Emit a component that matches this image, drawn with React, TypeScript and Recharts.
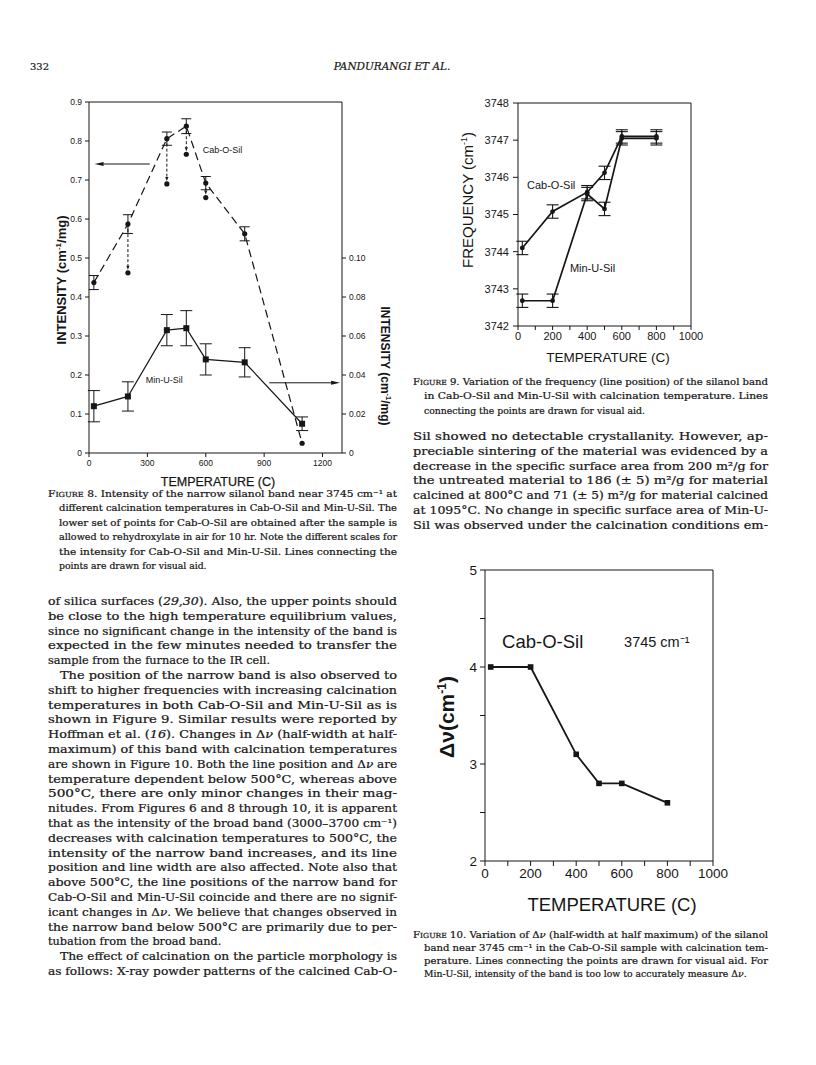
import React from 'react';
import { ComposedChart, LineChart, Line, XAxis, YAxis, ErrorBar, ReferenceLine, ReferenceDot } from 'recharts';

const SANS = '"Liberation Sans", Arial, Helvetica, sans-serif';
const SERIF = '"DejaVu Serif", "Liberation Serif", serif';
const INK = '#161616';

// ---------- Figure 8 data ----------
const fig8Temps = [25, 200, 400, 500, 600, 800, 1095];
const fig8CabOSil = [0.437, 0.587, 0.806, 0.838, 0.692, 0.562, 0.025];
const fig8CabOSilErr = [0.018, 0.024, 0.017, 0.019, 0.017, 0.018, 0];
const fig8RehydTemps = [200, 400, 500, 600];
const fig8CabOSilRehyd = [0.462, 0.69, 0.766, 0.655];
const fig8MinUSil = [0.024, 0.029, 0.063, 0.064, 0.048, 0.0465, 0.015];
const fig8MinUSilErr = [0.008, 0.0075, 0.008, 0.009, 0.008, 0.0075, 0.0035];
const fig8XTicks = [0, 300, 600, 900, 1200];
const fig8LeftTicks = [0, 0.1, 0.2, 0.3, 0.4, 0.5, 0.6, 0.7, 0.8, 0.9];
const fig8RightTicks = [0, 0.02, 0.04, 0.06, 0.08, 0.1];
const fig8LeftArrow = { y: 0.741, from: 312, to: 29 };
const fig8RightArrow = { y: 0.036, from: 926, to: 1290 };
const fig8Labels = [
  { text: 'Cab-O-Sil', x: 585, y: 0.778, axis: 'left' },
  { text: 'Min-U-Sil', x: 292, y: 0.0374, axis: 'right' },
];

// ---------- Figure 9 data ----------
const fig9Temps = [25, 200, 400, 500, 600, 800];
const fig9CabOSil = [3744.1, 3745.08, 3745.6, 3746.12, 3747.1, 3747.1];
const fig9CabOSilErr = [0.18, 0.18, 0.18, 0.18, 0.18, 0.18];
const fig9MinUSil = [3742.68, 3742.68, 3745.55, 3745.15, 3747.05, 3747.05];
const fig9MinUSilErr = [0.18, 0.18, 0.18, 0.18, 0.18, 0.18];
const fig9XTicks = [0, 100, 200, 300, 400, 500, 600, 700, 800, 900, 1000];
const fig9YTicks = [3742, 3743, 3744, 3745, 3746, 3747, 3748];
const fig9Labels = [
  { text: 'Cab-O-Sil', x: 52, y: 3745.79 },
  { text: 'Min-U-Sil', x: 300, y: 3743.56 },
];

// ---------- Figure 10 data ----------
const fig10Temps = [25, 200, 400, 500, 600, 800];
const fig10DeltaNu = [4.0, 4.0, 3.1, 2.8, 2.8, 2.6];
const fig10XTicks = [0, 100, 200, 300, 400, 500, 600, 700, 800, 900, 1000];
const fig10YTicks = [2, 2.5, 3, 3.5, 4, 4.5, 5];
const fig10Labels = [
  { text: 'Cab-O-Sil', x: 75, y: 4.26, size: 18.5 },
  { text: '3745 cm\u207B\u00B9', x: 610, y: 4.26, size: 14.5 },
];

// ---------- Page text ----------
const fig8Caption = [
  '^Figure^ 8. Intensity of the narrow silanol band near 3745 cm\u207B\u00B9 at',
  'different calcination temperatures in Cab-O-Sil and Min-U-Sil. The',
  'lower set of points for Cab-O-Sil are obtained after the sample is',
  'allowed to rehydroxylate in air for 10 hr. Note the different scales for',
  'the intensity for Cab-O-Sil and Min-U-Sil. Lines connecting the',
  'points are drawn for visual aid.',
];
const fig9Caption = [
  '^Figure^ 9. Variation of the frequency (line position) of the silanol band',
  'in Cab-O-Sil and Min-U-Sil with calcination temperature. Lines',
  'connecting the points are drawn for visual aid.',
];
const fig10Caption = [
  '^Figure^ 10. Variation of \u0394_\u03BD_ (half-width at half maximum) of the silanol',
  'band near 3745 cm\u207B\u00B9 in the Cab-O-Sil sample with calcination tem-',
  'perature. Lines connecting the points are drawn for visual aid. For',
  'Min-U-Sil, intensity of the band is too low to accurately measure \u0394_\u03BD_.',
];
const leftBody = [
  'of silica surfaces (_29,30_). Also, the upper points should',
  'be close to the high temperature equilibrium values,',
  'since no significant change in the intensity of the band is',
  'expected in the few minutes needed to transfer the',
  'sample from the furnace to the IR cell.',
  'The position of the narrow band is also observed to',
  'shift to higher frequencies with increasing calcination',
  'temperatures in both Cab-O-Sil and Min-U-Sil as is',
  'shown in Figure 9. Similar results were reported by',
  'Hoffman et al. (_16_). Changes in \u0394_\u03BD_ (half-width at half-',
  'maximum) of this band with calcination temperatures',
  'are shown in Figure 10. Both the line position and \u0394_\u03BD_ are',
  'temperature dependent below 500\u00B0C, whereas above',
  '500\u00B0C, there are only minor changes in their mag-',
  'nitudes. From Figures 6 and 8 through 10, it is apparent',
  'that as the intensity of the broad band (3000\u20133700 cm\u207B\u00B9)',
  'decreases with calcination temperatures to 500\u00B0C, the',
  'intensity of the narrow band increases, and its line',
  'position and line width are also affected. Note also that',
  'above 500\u00B0C, the line positions of the narrow band for',
  'Cab-O-Sil and Min-U-Sil coincide and there are no signif-',
  'icant changes in \u0394_\u03BD_. We believe that changes observed in',
  'the narrow band below 500\u00B0C are primarily due to per-',
  'tubation from the broad band.',
  'The effect of calcination on the particle morphology is',
  'as follows: X-ray powder patterns of the calcined Cab-O-',
];
const leftBodyIndented = [5, 24];
const leftBodyRagged = [4, 23];
const rightBody = [
  'Sil showed no detectable crystallanity. However, ap-',
  'preciable sintering of the material was evidenced by a',
  'decrease in the specific surface area from 200 m\u00B2/g for',
  'the untreated material to 186 (\u00B1 5) m\u00B2/g for material',
  'calcined at 800\u00B0C and 71 (\u00B1 5) m\u00B2/g for material calcined',
  'at 1095\u00B0C. No change in specific surface area of Min-U-',
  'Sil was observed under the calcination conditions em-',
];

function rich(s: string) {
  const parts: React.ReactNode[] = [];
  let italic = false;
  let sc = false;
  let buf = '';
  let k = 0;
  const flush = () => {
    if (buf) {
      parts.push(
        <tspan key={k++} fontStyle={italic ? 'italic' : undefined} style={sc ? { fontVariant: 'small-caps' } : undefined}>
          {buf}
        </tspan>
      );
      buf = '';
    }
  };
  for (const ch of s) {
    if (ch === '_') { flush(); italic = !italic; }
    else if (ch === '^') { flush(); sc = !sc; }
    else buf += ch;
  }
  flush();
  return parts;
}

function TLine(props: { x: number; y: number; w?: number; s: string; size: number; family?: string; italic?: boolean }) {
  const { x, y, w, s, size, family, italic } = props;
  const extra: any = w ? { textLength: w, lengthAdjust: 'spacingAndGlyphs' } : {};
  return (
    <text x={x} y={y} fontSize={size} fontFamily={family || SERIF} fill={INK} stroke={INK} strokeWidth={0.22} fontStyle={italic ? 'italic' : undefined} style={{ whiteSpace: 'pre' }} {...extra}>
      {rich(s)}
    </text>
  );
}

function Block(props: { lines: string[]; x: number; right: number; y0: number; dy: number; size: number; indent: number; indented: number[]; ragged: number[] }) {
  const { lines, x, right, y0, dy, size, indent, indented, ragged } = props;
  return (
    <g>
      {lines.map((s, i) => {
        const lx = indented.includes(i) ? x + indent : x;
        const w = ragged.includes(i) ? undefined : right - lx;
        return <TLine key={i} x={lx} y={y0 + i * dy} w={w} s={s} size={size} />;
      })}
    </g>
  );
}

const circleDot = (r: number) => (p: any) =>
  p.cx == null ? <g key={`n${p.index}`} /> : <circle key={`c${p.index}`} cx={p.cx} cy={p.cy} r={r} fill={INK} />;
const squareDot = (h: number) => (p: any) =>
  p.cx == null ? <g key={`n${p.index}`} /> : <rect key={`s${p.index}`} x={p.cx - h} y={p.cy - h} width={2 * h} height={2 * h} fill={INK} />;

const arrowShape = (dash: string | undefined, gap: number, hl: number, hw: number) => (p: any) => {
  const { x1, y1, x2, y2 } = p;
  const dx = x2 - x1;
  const dy = y2 - y1;
  const len = Math.hypot(dx, dy) || 1;
  const ux = dx / len;
  const uy = dy / len;
  const ex = x2 - ux * gap;
  const ey = y2 - uy * gap;
  const bx = ex - ux * hl;
  const by = ey - uy * hl;
  const pts = `${ex},${ey} ${bx - uy * hw},${by + ux * hw} ${bx + uy * hw},${by - ux * hw}`;
  return (
    <g>
      <line x1={x1} y1={y1} x2={bx} y2={by} stroke={INK} strokeWidth={1} strokeDasharray={dash} />
      <polygon points={pts} fill={INK} />
    </g>
  );
};

function Fig8() {
  const cab = fig8Temps.map((t, i) => ({ t, v: fig8CabOSil[i], e: fig8CabOSilErr[i] }));
  const rehyd = fig8RehydTemps.map((t, i) => ({ t, v: fig8CabOSilRehyd[i] }));
  const minu = fig8Temps.map((t, i) => ({ t, v: fig8MinUSil[i], e: fig8MinUSilErr[i] }));
  const tick = { fontSize: 8.5, fontFamily: SANS, fill: INK };
  return (
    <div style={{ position: 'absolute', left: 30, top: 88 }}>
      <ComposedChart width={380} height={410} margin={{ top: 14, right: 24, bottom: 15, left: 15 }}>
        <XAxis xAxisId="x" type="number" dataKey="t" domain={[0, 1300]} ticks={fig8XTicks} tick={tick} tickSize={4} tickMargin={3} height={30} stroke={INK} allowDataOverflow />
        <YAxis xAxisId="x" yAxisId="left" type="number" domain={[0, 0.9]} ticks={fig8LeftTicks} tick={tick} tickSize={4} tickMargin={3} width={44} stroke={INK} tickFormatter={(v: number) => (v === 0 ? '0' : v.toFixed(1))} allowDataOverflow />
        <YAxis yAxisId="right" orientation="right" type="number" domain={[0, 0.18]} ticks={fig8RightTicks} tick={tick} tickSize={4} tickMargin={3} width={44} stroke={INK} tickFormatter={(v: number) => (v === 0 ? '0' : v.toFixed(2))} allowDataOverflow />
        <ReferenceLine xAxisId="x" yAxisId="left" y={0.9} stroke={INK} />
        <Line xAxisId="x" yAxisId="left" data={cab} dataKey="v" stroke={INK} strokeWidth={1.2} strokeDasharray="8 4.5" dot={circleDot(2.6)} isAnimationActive={false}>
          <ErrorBar dataKey="e" direction="y" width={5} stroke={INK} strokeWidth={1} />
        </Line>
        <Line xAxisId="x" yAxisId="left" data={rehyd} dataKey="v" stroke="none" dot={circleDot(2.6)} isAnimationActive={false} />
        <Line xAxisId="x" yAxisId="right" data={minu} dataKey="v" stroke={INK} strokeWidth={1.2} dot={squareDot(3)} isAnimationActive={false}>
          <ErrorBar dataKey="e" direction="y" width={6} stroke={INK} strokeWidth={1} />
        </Line>
        {fig8RehydTemps.map((t, i) => (
          <ReferenceLine key={`ra${i}`} xAxisId="x" yAxisId="left" segment={[{ x: t, y: fig8CabOSil[fig8Temps.indexOf(t)] }, { x: t, y: fig8CabOSilRehyd[i] }]} shape={arrowShape('3 2', 3, 4, 1.6)} />
        ))}
        <ReferenceLine xAxisId="x" yAxisId="left" segment={[{ x: fig8LeftArrow.from, y: fig8LeftArrow.y }, { x: fig8LeftArrow.to, y: fig8LeftArrow.y }]} shape={arrowShape(undefined, 0, 9, 2)} />
        <ReferenceLine xAxisId="x" yAxisId="right" segment={[{ x: fig8RightArrow.from, y: fig8RightArrow.y }, { x: fig8RightArrow.to, y: fig8RightArrow.y }]} shape={arrowShape(undefined, 0, 9, 2)} />
        {fig8Labels.map((l, i) => (
          <ReferenceDot key={`l${i}`} xAxisId="x" yAxisId={l.axis} x={l.x} y={l.y} r={0} stroke="none" label={{ value: l.text, position: 'right', offset: 0, fontSize: 9, fontFamily: SANS, fill: INK }} />
        ))}
      </ComposedChart>
    </div>
  );
}

function Fig9() {
  const cab = fig9Temps.map((t, i) => ({ t, v: fig9CabOSil[i], e: fig9CabOSilErr[i] }));
  const minu = fig9Temps.map((t, i) => ({ t, v: fig9MinUSil[i], e: fig9MinUSilErr[i] }));
  const tick = { fontSize: 11, fontFamily: SANS, fill: INK };
  return (
    <div style={{ position: 'absolute', left: 440, top: 90 }}>
      <LineChart width={300} height={260} margin={{ top: 13, right: 49, bottom: 2, left: 38 }}>
        <XAxis type="number" dataKey="t" domain={[0, 1000]} ticks={fig9XTicks} tick={tick} tickSize={4} tickMargin={2} height={22} stroke={INK} tickFormatter={(v: number) => (v % 200 === 0 ? String(v) : '')} allowDataOverflow />
        <YAxis type="number" domain={[3742, 3748]} ticks={fig9YTicks} tick={tick} tickSize={5} tickMargin={4} width={40} stroke={INK} allowDataOverflow />
        <ReferenceLine y={3748} stroke={INK} />
        <ReferenceLine x={1000} stroke={INK} />
        <Line data={cab} dataKey="v" stroke={INK} strokeWidth={1.7} dot={circleDot(2.4)} isAnimationActive={false}>
          <ErrorBar dataKey="e" direction="y" width={6} stroke={INK} strokeWidth={1.1} />
        </Line>
        <Line data={minu} dataKey="v" stroke={INK} strokeWidth={1.7} dot={circleDot(2.4)} isAnimationActive={false}>
          <ErrorBar dataKey="e" direction="y" width={6} stroke={INK} strokeWidth={1.1} />
        </Line>
        {fig9Labels.map((l, i) => (
          <ReferenceDot key={`l${i}`} x={l.x} y={l.y} r={0} stroke="none" label={{ value: l.text, position: 'right', offset: 0, fontSize: 11, fontFamily: SANS, fill: INK }} />
        ))}
      </LineChart>
    </div>
  );
}

function Fig10() {
  const d = fig10Temps.map((t, i) => ({ t, v: fig10DeltaNu[i] }));
  const tick = { fontSize: 13.5, fontFamily: SANS, fill: INK };
  return (
    <div style={{ position: 'absolute', left: 420, top: 555 }}>
      <LineChart width={320} height={330} margin={{ top: 15, right: 27, bottom: 0, left: 25 }}>
        <XAxis type="number" dataKey="t" domain={[0, 1000]} ticks={fig10XTicks} tick={tick} tickSize={5} tickMargin={2} height={24} stroke={INK} tickFormatter={(v: number) => (v % 200 === 0 ? String(v) : '')} allowDataOverflow />
        <YAxis type="number" domain={[2, 5]} ticks={fig10YTicks} tick={tick} tickSize={5} tickMargin={3} width={40} stroke={INK} tickFormatter={(v: number) => (Number.isInteger(v) ? String(v) : '')} allowDataOverflow />
        <ReferenceLine y={5} stroke={INK} />
        <ReferenceLine x={1000} stroke={INK} />
        <Line data={d} dataKey="v" stroke={INK} strokeWidth={1.8} dot={squareDot(2.8)} isAnimationActive={false} />
        {fig10Labels.map((l, i) => (
          <ReferenceDot key={`l${i}`} x={l.x} y={l.y} r={0} stroke="none" label={{ value: l.text, position: 'right', offset: 0, fontSize: l.size, fontFamily: SANS, fill: INK }} />
        ))}
      </LineChart>
    </div>
  );
}

function PageText() {
  return (
    <svg width={816} height={1065} style={{ position: 'absolute', left: 0, top: 0 }}>
      <rect x={0} y={0} width={816} height={1065} fill="#fff" />
      <text x={30} y={70} fontSize={10} fontFamily={SERIF} fill={INK} stroke={INK} strokeWidth={0.2}>332</text>
      <text x={392} y={70} fontSize={10.5} fontFamily={SERIF} fontStyle="italic" fill={INK} stroke={INK} strokeWidth={0.2} textAnchor="middle">PANDURANGI ET AL.</text>

      {/* Figure 8 axis titles */}
      <text transform="translate(66,280) rotate(-90)" fontSize={13} fontWeight="bold" fontFamily={SANS} fill={INK} textAnchor="middle">INTENSITY (cm<tspan fontSize={8} dy={-5}>-1</tspan><tspan dy={5}>/mg)</tspan></text>
      <text transform="translate(381,366) rotate(90)" fontSize={12} fontWeight="bold" fontFamily={SANS} fill={INK} textAnchor="middle">INTENSITY (cm<tspan fontSize={7.5} dy={-5}>-1</tspan><tspan dy={5}>/mg)</tspan></text>
      <text x={218} y={486} fontSize={12.5} fontFamily={SANS} fill={INK} stroke={INK} strokeWidth={0.25} textAnchor="middle">TEMPERATURE (C)</text>

      {/* Figure 9 axis titles */}
      <text transform="translate(473,200) rotate(-90)" fontSize={15} fontFamily={SANS} fill={INK} textAnchor="middle">FREQUENCY (cm<tspan fontSize={9} dy={-6}>-1</tspan><tspan dy={6}>)</tspan></text>
      <text x={608} y={362} fontSize={13.5} fontFamily={SANS} fill={INK} textAnchor="middle">TEMPERATURE (C)</text>

      {/* Figure 10 axis titles */}
      <text transform="translate(454,717) rotate(-90)" fontSize={21} fontWeight="bold" fontFamily={SANS} fill={INK} textAnchor="middle">{'\u0394\u03BD(cm'}<tspan fontSize={12} dy={-8}>-1</tspan><tspan dy={8}>)</tspan></text>
      <text x={612} y={911} fontSize={18.5} fontFamily={SANS} fill={INK} textAnchor="middle">TEMPERATURE (C)</text>

      <Block lines={fig8Caption} x={48} right={397} y0={497} dy={14.4} size={9.3} indent={11} indented={[1, 2, 3, 4, 5]} ragged={[5]} />
      <Block lines={leftBody} x={48} right={397} y0={605} dy={14.8} size={11.3} indent={12} indented={leftBodyIndented} ragged={leftBodyRagged} />
      <Block lines={fig9Caption} x={413} right={768} y0={385} dy={14.4} size={9.3} indent={11} indented={[1, 2]} ragged={[2]} />
      <Block lines={rightBody} x={413} right={768} y0={440} dy={14.8} size={11.3} indent={12} indented={[]} ragged={[]} />
      <Block lines={fig10Caption} x={413} right={768} y0={938} dy={13} size={9.3} indent={11} indented={[1, 2, 3]} ragged={[3]} />
    </svg>
  );
}

export default function App() {
  return (
    <div style={{ position: 'absolute', left: 0, top: 0, width: 816, height: 1065, background: '#fff' }}>
      <PageText />
      <Fig8 />
      <Fig9 />
      <Fig10 />
    </div>
  );
}
